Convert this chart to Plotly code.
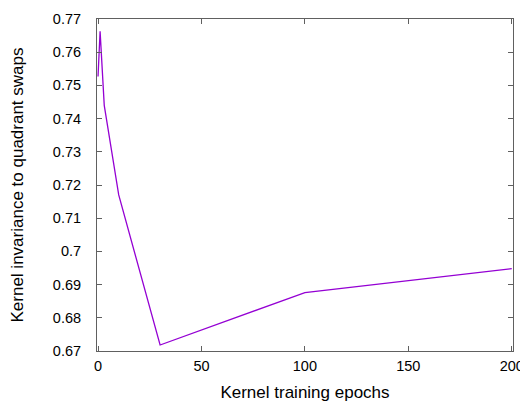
import plotly.graph_objects as go

epochs = [0, 1, 3, 10, 30, 100, 200]
invariance = [0.7527, 0.7663, 0.7440, 0.7170, 0.6718, 0.6876, 0.6948]

x_ticks = [0, 50, 100, 150, 200]
y_ticks = [0.67, 0.68, 0.69, 0.70, 0.71, 0.72, 0.73, 0.74, 0.75, 0.76, 0.77]
y_labels = ["0.67", "0.68", "0.69", "0.7", "0.71", "0.72", "0.73", "0.74", "0.75", "0.76", "0.77"]

FONT = "Liberation Sans, Arial, sans-serif"

fig = go.Figure()
fig.add_trace(go.Scatter(x=epochs, y=invariance, mode="lines",
                         line=dict(color="#9400D3", width=1.3), showlegend=False))

axis_common = dict(showline=True, linecolor="#606060", linewidth=1, mirror="ticks",
                   ticks="inside", ticklen=5, tickcolor="#606060", tickwidth=1,
                   showgrid=False, zeroline=False, automargin=False,
                   tickfont=dict(family=FONT, size=14.5, color="#000"),
                   title_font=dict(family=FONT, size=17, color="#000"))

fig.update_xaxes(range=[-0.5, 200.6], tickvals=x_ticks, ticktext=[str(v) for v in x_ticks],
                 title_text="Kernel training epochs", title_standoff=12, ticklabelstandoff=2,
                 **axis_common)
fig.update_yaxes(range=[0.67, 0.77], tickvals=y_ticks, ticktext=y_labels,
                 title_text="Kernel invariance to quadrant swaps", title_standoff=32,
                 ticklabelstandoff=12, **axis_common)

# page body has an 8px default margin, so the figure is 8px smaller than the window
fig.update_layout(width=520, height=394, margin=dict(l=89, r=15, t=11, b=51, pad=0),
                  paper_bgcolor="white", plot_bgcolor="white",
                  font=dict(family=FONT, size=14.5, color="#000"))

fig.write_html("out.html")
